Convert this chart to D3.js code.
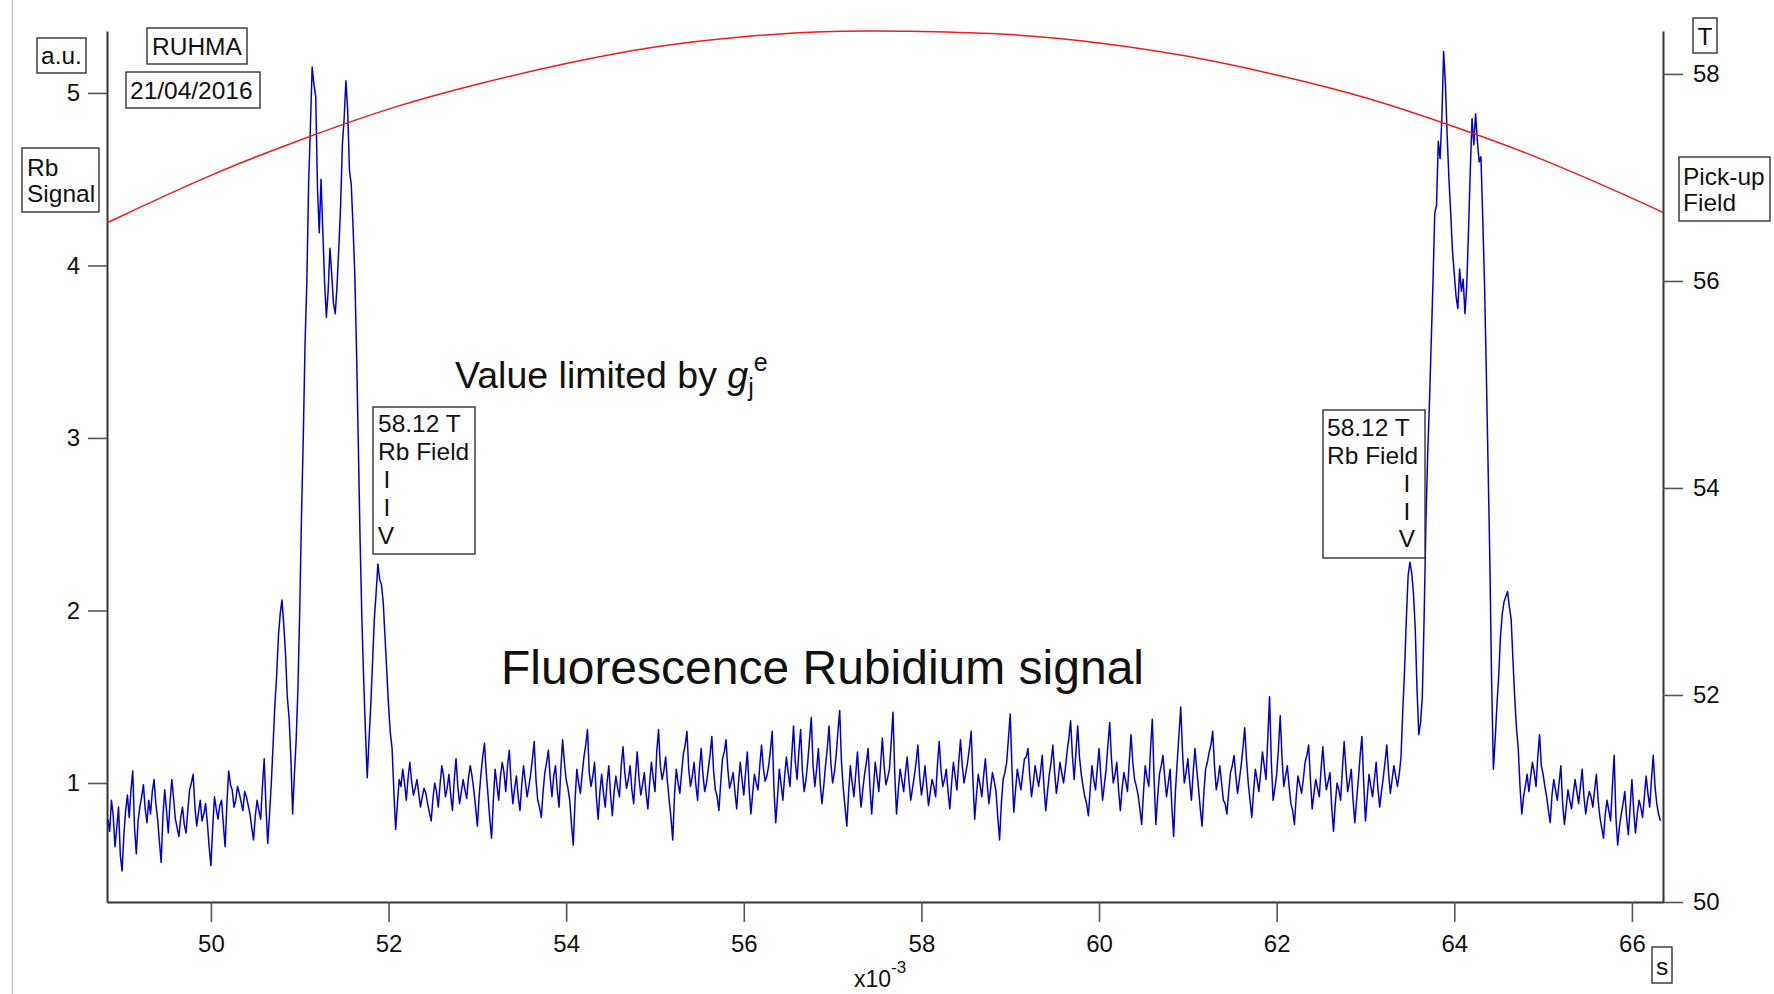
<!DOCTYPE html>
<html>
<head>
<meta charset="utf-8">
<script src="https://cdn.jsdelivr.net/npm/d3@7"></script>
<style>
  html, body { margin: 0; padding: 0; background: #fff; }
  svg { display: block; font-family: "Liberation Sans", Arial, sans-serif; }
</style>
</head>
<body>
<svg id="chart" width="1774" height="994"></svg>
<script>
// Fluorescence trace (a.u.), one sample every 0.02 ms starting at 48.84 ms
const sampleStart = 48.84;
const sampleStep = 0.02;
const rbSignal = [
  // 48.84 – 50.66 ms
  0.79, 0.72, 0.90, 0.81, 0.63, 0.74, 0.86, 0.58, 0.49, 0.70,
  0.84, 0.93, 0.80, 0.96, 1.07, 0.74, 0.59, 0.78, 0.86, 0.92,
  0.99, 0.85, 0.77, 0.90, 0.82, 0.95, 1.02, 0.88, 0.79, 0.66,
  0.54, 0.81, 0.96, 0.84, 0.71, 0.89, 1.02, 0.91, 0.79, 0.74,
  0.69, 0.80, 0.86, 0.76, 0.71, 0.84, 0.96, 1.00, 1.05, 0.86,
  0.75, 0.83, 0.90, 0.78, 0.82, 0.88, 0.77, 0.63, 0.52, 0.74,
  0.92, 0.85, 0.79, 0.87, 0.90, 0.76, 0.63, 0.88, 1.07, 0.99,
  0.96, 0.86, 0.90, 0.98, 0.94, 0.89, 0.84, 0.95, 0.92, 0.87,
  0.82, 0.74, 0.67, 0.81, 0.90, 0.84, 0.79, 0.98, 1.14, 0.86,
  0.65, 0.82,
  // 50.68 – 52.12 ms : first resonance group
  1.00, 1.22, 1.45, 1.62, 1.85, 1.98, 2.06, 1.92, 1.75, 1.50,
  1.38, 1.15, 0.82, 1.05, 1.25, 1.55, 2.00, 2.55, 3.00, 3.55,
  3.90, 4.47, 4.80, 5.15, 5.05, 4.98, 4.45, 4.19, 4.50, 4.20,
  3.90, 3.70, 3.85, 4.10, 3.95, 3.78, 3.72, 3.88, 4.10, 4.34,
  4.70, 4.85, 5.07, 4.90, 4.55, 4.47, 4.23, 3.95, 3.50, 2.95,
  2.40, 1.95, 1.60, 1.30, 1.03, 1.25, 1.45, 1.70, 1.95, 2.10,
  2.27, 2.18, 2.15, 2.05, 1.85, 1.65, 1.45, 1.29, 1.20, 0.95,
  0.73, 0.88, 1.02,
  // 52.14 – 63.38 ms
  0.98, 1.08, 1.00, 0.90, 1.03, 1.12, 1.01, 0.93, 0.97, 1.02, 0.94, 0.86, 0.92, 0.97, 0.94, 0.88, 0.83, 0.78, 0.91, 1.00,
  0.95, 0.86, 0.99, 1.10, 1.04, 0.92, 0.97, 1.05, 0.93, 0.84, 1.02, 1.14, 0.98, 0.88, 0.95, 1.02, 0.96, 0.91, 1.03, 1.10,
  1.04, 0.96, 0.86, 0.75, 0.92, 1.05, 1.15, 1.23, 1.06, 0.93, 0.79, 0.68, 0.90, 1.08, 0.99, 0.90, 1.04, 1.12, 1.06, 0.95,
  1.10, 1.19, 1.00, 0.88, 0.97, 1.04, 0.92, 0.84, 0.99, 1.10, 1.01, 0.92, 0.98, 1.05, 1.14, 1.24, 1.02, 0.90, 0.86, 0.80,
  0.95, 1.06, 1.12, 1.19, 1.03, 0.92, 1.04, 1.10, 0.96, 0.86, 1.08, 1.25, 1.12, 1.02, 0.97, 0.90, 0.76, 0.64, 0.90, 1.08,
  1.00, 0.94, 1.05, 1.15, 1.22, 1.31, 1.06, 0.98, 1.04, 1.12, 0.92, 0.79, 0.95, 1.05, 0.94, 0.86, 1.00, 1.10, 0.93, 0.81,
  0.95, 1.04, 0.97, 0.92, 1.10, 1.21, 1.06, 0.97, 1.02, 1.10, 0.96, 0.88, 1.04, 1.18, 1.03, 0.93, 0.99, 1.06, 0.94, 0.85,
  1.00, 1.12, 1.03, 0.95, 1.18, 1.31, 1.10, 1.02, 1.07, 1.15, 1.01, 0.90, 0.80, 0.67, 0.93, 1.08, 1.00, 0.94, 1.06, 1.17,
  1.22, 1.30, 1.08, 0.98, 1.04, 1.12, 0.99, 0.90, 1.08, 1.20, 1.05, 0.95, 1.00, 1.08, 1.16, 1.27, 1.07, 0.96, 0.92, 0.84,
  1.00, 1.14, 1.18, 1.25, 1.08, 0.97, 1.01, 1.06, 0.95, 0.85, 1.00, 1.12, 1.02, 0.93, 1.06, 1.18, 0.97, 0.82, 0.94, 1.05,
  1.00, 0.96, 1.10, 1.22, 1.09, 1.01, 1.04, 1.10, 1.19, 1.30, 0.96, 0.77, 0.92, 1.08, 0.99, 0.90, 1.04, 1.15, 1.06, 0.98,
  1.16, 1.33, 1.12, 1.02, 1.18, 1.31, 1.07, 0.95, 1.02, 1.12, 1.25, 1.38, 1.10, 0.98, 1.08, 1.20, 1.00, 0.88, 0.98, 1.10,
  1.20, 1.33, 1.12, 1.00, 1.06, 1.16, 1.30, 1.42, 1.12, 0.97, 0.86, 0.75, 0.94, 1.10, 1.00, 0.92, 1.05, 1.18, 1.00, 0.86,
  0.96, 1.05, 1.12, 1.20, 0.98, 0.82, 0.97, 1.12, 1.04, 0.95, 1.10, 1.26, 1.10, 0.99, 1.03, 1.08,
  1.24, 1.41, 1.05, 0.82, 0.96, 1.08, 1.02, 0.95, 1.06, 1.15, 1.01, 0.90, 0.97, 1.04, 1.12, 1.22, 1.04, 0.93, 1.00, 1.10,
  0.98, 0.87, 0.95, 1.02, 0.98, 0.92, 1.10, 1.24, 1.08, 0.98, 1.02, 1.08, 0.95, 0.85, 1.00, 1.12, 1.04, 0.96, 1.12, 1.25,
  1.10, 1.00, 1.06, 1.12, 1.20, 1.30, 1.02, 0.79, 0.93, 1.05, 0.99, 0.92, 1.04, 1.14, 1.00, 0.88, 0.97, 1.06, 1.01, 0.95,
  0.80, 0.67, 0.88, 1.02, 1.06, 1.12, 1.26, 1.40, 1.08, 0.83, 0.96, 1.08, 1.02, 0.96, 1.05, 1.14, 1.15, 1.20, 1.04, 0.92,
  1.00, 1.10, 1.04, 0.98, 1.06, 1.16, 0.98, 0.84, 0.95, 1.05, 1.12, 1.22, 1.06, 0.94, 1.02, 1.12, 1.06, 1.00, 1.08, 1.18,
  1.26, 1.36, 1.16, 1.02, 1.18, 1.33, 1.15, 1.05, 0.98, 0.92, 0.88, 0.81, 0.96, 1.10, 1.02, 0.96, 1.08, 1.20, 1.04, 0.90,
  0.99, 1.08, 1.22, 1.35, 1.14, 1.00, 1.05, 1.12, 0.96, 0.84, 0.97, 1.06, 1.01, 0.95, 1.12, 1.28, 1.12, 1.02, 0.98, 0.93,
  0.85, 0.76, 0.94, 1.10, 1.03, 0.98, 1.20, 1.37, 1.02, 0.76, 0.92, 1.05, 1.10, 1.16, 1.03, 0.92, 1.00, 1.08, 0.86, 0.69,
  0.95, 1.12, 1.28, 1.44, 1.18, 1.00, 1.06, 1.14, 1.01, 0.90, 1.06, 1.20, 1.08, 0.97, 0.85, 0.75, 0.94, 1.08, 1.12, 1.18,
  1.22, 1.30, 1.10, 0.96, 1.02, 1.10, 1.00, 0.90, 0.88, 0.82, 0.95, 1.06, 1.10, 1.16, 1.04, 0.94, 1.02, 1.10, 1.20, 1.32,
  1.14, 1.00, 0.90, 0.80, 0.95, 1.08, 1.02, 0.95, 1.06, 1.18, 1.10, 1.02, 1.26, 1.50, 1.12, 0.90, 0.97, 1.05, 1.20, 1.39,
  1.15, 0.98, 1.04, 1.10, 0.98, 0.88, 0.84, 0.76, 0.92, 1.04, 0.99, 0.94, 1.02, 1.12, 1.16, 1.22, 1.02, 0.85, 0.94, 1.02,
  0.97, 0.92, 1.08, 1.21, 1.06, 0.96, 1.01, 1.06, 0.86, 0.72, 0.88, 1.00, 0.96, 0.90, 1.08, 1.24, 1.08, 0.95, 1.01, 1.08,
  0.90, 0.77, 0.90, 1.02, 1.16, 1.27, 1.00, 0.78, 0.92, 1.05, 0.98, 0.92, 1.02, 1.12, 0.97, 0.86, 0.95, 1.03, 1.12, 1.22,
  1.06, 0.94, 1.02, 1.10, 1.04, 0.98, 1.05,
  // 63.40 – 64.80 ms : second resonance group
  1.15, 1.42, 1.65, 1.95, 2.20, 2.28, 2.22, 2.10, 1.90, 1.55,
  1.28, 1.35, 1.50, 1.95, 2.50, 2.90, 3.20, 3.55, 3.90, 4.30,
  4.35, 4.72, 4.62, 4.85, 5.24, 5.05, 4.75, 4.50, 4.30, 4.08,
  3.95, 3.82, 3.75, 3.98, 3.85, 3.92, 3.72, 3.88, 4.20, 4.55,
  4.85, 4.70, 4.88, 4.72, 4.60, 4.63, 4.28, 3.90, 3.40, 2.85,
  2.30, 1.60, 1.08, 1.25, 1.45, 1.62, 1.85, 1.98, 2.05, 2.08,
  2.11, 2.02, 1.95, 1.72, 1.50, 1.32, 1.20, 0.98, 0.82, 0.92,
  0.98,
  // 64.82 – 66.32 ms
  1.05, 0.95, 1.04, 1.12, 1.06, 0.98, 1.15, 1.28, 1.10, 1.05, 0.98, 0.92, 0.84, 0.77, 0.93, 1.02, 0.96, 0.90, 1.00, 1.10,
  0.88, 0.76, 0.86, 0.96, 0.90, 0.85, 0.94, 1.02, 0.95, 0.88, 0.98, 1.08, 0.92, 0.82, 0.90, 0.95, 0.92, 0.86, 0.96, 1.05,
  0.90, 0.80, 0.74, 0.68, 0.82, 0.90, 0.84, 0.78, 0.98, 1.16, 0.80, 0.64, 0.75, 0.82, 0.88, 0.95, 0.80, 0.70, 0.86, 1.02,
  0.84, 0.71, 0.82, 0.90, 0.86, 0.80, 0.92, 1.04, 0.94, 0.86, 1.02, 1.16, 0.98, 0.88, 0.82, 0.78
];

// Pick-up coil field (T) at the listed times (ms)
const fieldTimes  = [48.83, 49, 50, 51, 52, 53, 54, 55, 56, 57, 58, 59, 60, 61, 62, 63, 64, 65, 66, 66.35];
const fieldValues = [56.56, 56.63, 57.02, 57.36, 57.66, 57.90, 58.10, 58.26, 58.36, 58.41,
                     58.41, 58.38, 58.30, 58.17, 57.99, 57.77, 57.49, 57.17, 56.80, 56.66];

// Axis ticks
const timeTicks   = [50, 52, 54, 56, 58, 60, 62, 64, 66];
const signalTicks = [1, 2, 3, 4, 5];
const fieldTicks  = [50, 52, 54, 56, 58];

const svg = d3.select("#chart");
const W = 1774, H = 994;
const plotLeft = 107, plotRight = 1663, plotTop = 31, plotBottom = 902;

svg.append("rect").attr("width", W).attr("height", H).attr("fill", "#fff");

// thin page border line on the far left
svg.append("line")
  .attr("x1", 12.5).attr("x2", 12.5).attr("y1", 0).attr("y2", H)
  .attr("stroke", "#c4c4c4").attr("stroke-width", 1.2);

const x = d3.scaleLinear().domain([48.83, 66.35]).range([plotLeft, plotRight]);
const ySig = d3.scaleLinear().domain([0.31, 5.359]).range([plotBottom, plotTop]);
const yField = d3.scaleLinear().domain([50, 58.415]).range([plotBottom, plotTop]);

svg.append("defs").append("clipPath").attr("id", "plot")
  .append("rect").attr("x", plotLeft).attr("y", plotTop - 2)
  .attr("width", plotRight - plotLeft).attr("height", plotBottom - plotTop + 2);

const tickFont = 24;
function styleAxis(g) {
  g.selectAll("path.domain").attr("stroke", "#333").attr("stroke-width", 2);
  g.selectAll(".tick line").attr("stroke", "#555").attr("stroke-width", 1.6);
  g.selectAll(".tick text").attr("fill", "#111")
    .style("font-size", tickFont + "px")
    .style("font-family", '"Liberation Sans", Arial, sans-serif');
}

// left axis: Rb signal
svg.append("g").attr("transform", `translate(${plotLeft},0)`)
  .call(d3.axisLeft(ySig).tickValues(signalTicks).tickSize(19).tickSizeOuter(0).tickPadding(8)
        .tickFormat(d3.format("d")))
  .call(styleAxis);

// right axis: pick-up field
svg.append("g").attr("transform", `translate(${plotRight},0)`)
  .call(d3.axisRight(yField).tickValues(fieldTicks).tickSize(20).tickSizeOuter(0).tickPadding(10)
        .tickFormat(d3.format("d")))
  .call(styleAxis);

// bottom axis: time
svg.append("g").attr("transform", `translate(0,${plotBottom})`)
  .call(d3.axisBottom(x).tickValues(timeTicks).tickSize(20).tickSizeOuter(0).tickPadding(13)
        .tickFormat(d3.format("d")))
  .call(styleAxis);

const plot = svg.append("g").attr("clip-path", "url(#plot)");

// fluorescence trace
const sigLine = d3.line()
  .x((d, i) => x(sampleStart + i * sampleStep))
  .y(d => ySig(d));
plot.append("path")
  .datum(rbSignal)
  .attr("d", sigLine)
  .attr("fill", "none")
  .attr("stroke", "#0000d0")
  .attr("stroke-width", 1.5)
  .attr("stroke-linejoin", "round");

// pick-up field curve
const fieldLine = d3.line()
  .x((d, i) => x(fieldTimes[i]))
  .y(d => yField(d))
  .curve(d3.curveNatural);
plot.append("path")
  .datum(fieldValues)
  .attr("d", fieldLine)
  .attr("fill", "none")
  .attr("stroke", "#ee1c1c")
  .attr("stroke-width", 1.5);

// boxed labels
function boxed(rect, lines, size) {
  const g = svg.append("g");
  g.append("rect")
    .attr("x", rect[0]).attr("y", rect[1])
    .attr("width", rect[2] - rect[0]).attr("height", rect[3] - rect[1])
    .attr("fill", "#fff").attr("stroke", "#333").attr("stroke-width", 1.4);
  lines.forEach(l => {
    g.append("text")
      .attr("x", l.x).attr("y", l.y)
      .attr("text-anchor", l.anchor || "start")
      .attr("fill", "#111")
      .style("font-size", (size || 24.5) + "px")
      .text(l.t);
  });
  return g;
}

boxed([37, 38, 86, 73], [{ t: "a.u.", x: 41, y: 64 }]);
boxed([147, 28, 247, 64], [{ t: "RUHMA", x: 152, y: 55 }]);
boxed([126, 72, 260, 108], [{ t: "21/04/2016", x: 130, y: 99 }]);
boxed([22, 148, 99, 212], [{ t: "Rb", x: 27, y: 176 }, { t: "Signal", x: 27, y: 202 }]);
boxed([1693, 18, 1717, 53], [{ t: "T", x: 1705, y: 45, anchor: "middle" }]);
boxed([1679, 157, 1770, 221], [{ t: "Pick-up", x: 1683, y: 185 }, { t: "Field", x: 1683, y: 211 }]);
boxed([1652, 947, 1672, 983], [{ t: "s", x: 1662, y: 975, anchor: "middle" }]);

boxed([373, 407, 475, 554], [
  { t: "58.12 T", x: 378, y: 432 },
  { t: "Rb Field", x: 378, y: 460 },
  { t: "I", x: 387, y: 488, anchor: "middle" },
  { t: "I", x: 387, y: 516, anchor: "middle" },
  { t: "V", x: 386, y: 544, anchor: "middle" }
]);
boxed([1323, 410, 1425, 558], [
  { t: "58.12 T", x: 1327, y: 436 },
  { t: "Rb Field", x: 1327, y: 464 },
  { t: "I", x: 1407, y: 492, anchor: "middle" },
  { t: "I", x: 1407, y: 520, anchor: "middle" },
  { t: "V", x: 1407, y: 547, anchor: "middle" }
]);

// x-axis multiplier
const mult = svg.append("text").attr("x", 854).attr("y", 987)
  .attr("fill", "#111").style("font-size", "23px");
mult.append("tspan").text("x10");
mult.append("tspan").attr("dy", -14).style("font-size", "17px").text("-3");

// annotations
const note = svg.append("text").attr("x", 455).attr("y", 388)
  .attr("fill", "#111").style("font-size", "37.5px");
note.append("tspan").text("Value limited by ");
note.append("tspan").style("font-style", "italic").text("g");
note.append("tspan").attr("dy", 8).style("font-size", "25px").text("j");
note.append("tspan").attr("dy", -25).style("font-size", "25px").text("e");

svg.append("text").attr("x", 501).attr("y", 684)
  .attr("fill", "#111").style("font-size", "48px")
  .text("Fluorescence Rubidium signal");
</script>
</body>
</html>
